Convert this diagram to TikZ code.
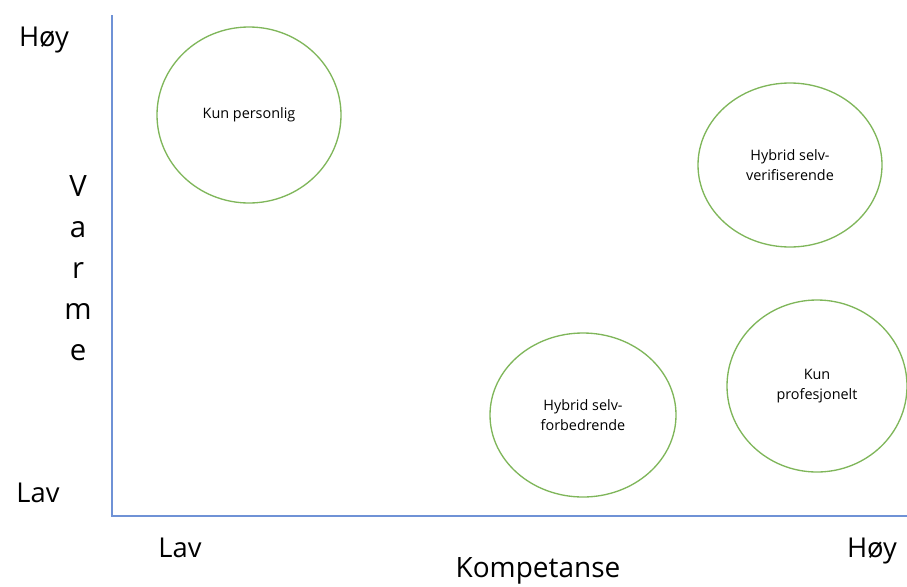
\documentclass[tikz,border=0pt]{standalone}
\usepackage{fontspec}
\setmainfont{Open Sans}
\usetikzlibrary{shapes.geometric}

\definecolor{axisblue}{HTML}{6F92D6}
\definecolor{ringgreen}{HTML}{7FB65A}

\begin{document}
\begin{tikzpicture}[
		x=0.75pt, y=-0.75pt,
		axis/.style={draw=axisblue, line width=1.1pt},
		ring/.style={ellipse, draw=ringgreen, line width=1pt, align=center, inner sep=0pt, font=\fontsize{10.8}{15.5}\selectfont},
		level/.style={font=\fontsize{20.5}{24}\selectfont, anchor=base},
	]
		\useasboundingbox (0,0) rectangle (907,586);

		% axes
		\coordinate (ytop) at (112,15);
		\coordinate (origin) at (112,516);
		\coordinate (xend) at (907,516);
		\draw[axis] (ytop) -- (origin) -- (xend);

		% levels and axis titles
		\node[level] (yhigh) at (44,46) {Høy};
		\node[level] (ylow) at (38,502) {Lav};
		\node[level] (xlow) at (180,557) {Lav};
		\node[level] (xhigh) at (872,557) {Høy};
		\node[font=\fontsize{21}{24}\selectfont, anchor=base] (xtitle) at (538,577) {Kompetanse};
		\node[font=\fontsize{22}{30.75}\selectfont, align=center, anchor=base] (ytitle) at (78,360) {V\\a\\r\\m\\e};

		% profiles
		\node[ring, minimum width=138pt, minimum height=132pt] (personal) at (249,115) {Kun personlig};
		\node[ring, minimum width=138pt, minimum height=123pt] (verify) at (790,165) {Hybrid selv-\\verifiserende};
		\node[ring, minimum width=139.5pt, minimum height=123pt] (improve) at (583,415) {Hybrid selv-\\forbedrende};
		\node[ring, minimum width=135pt, minimum height=129pt] (professional) at (817,386) {Kun\\profesjonelt};
\end{tikzpicture}
\end{document}
